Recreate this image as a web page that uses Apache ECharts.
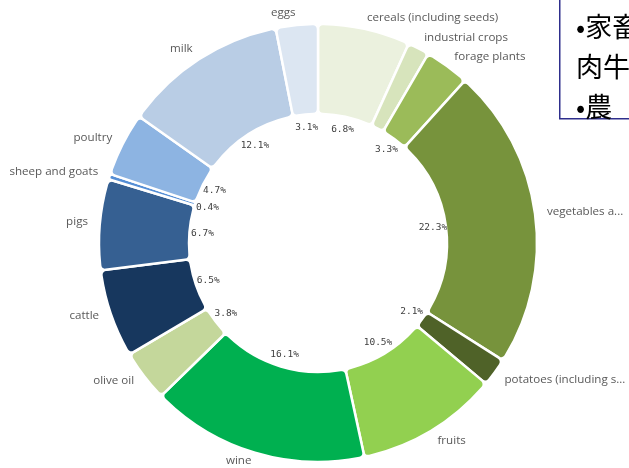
<!DOCTYPE html>
<html>
<head>
<meta charset="utf-8">
<script src="https://cdn.jsdelivr.net/npm/echarts@6/dist/echarts.min.js"></script>
<style>
  html, body { margin: 0; padding: 0; background: #fff; }
  #chart { width: 629px; height: 468px; }
</style>
</head>
<body>
<div id="chart"></div>
<script>
// ── Data (clockwise from 12 o'clock) ───────────────────────────────────
const categories = [
  'cereals (including seeds)', 'industrial crops', 'forage plants',
  'vegetables and horticultural products', 'potatoes (including seeds)',
  'fruits', 'wine', 'olive oil', 'cattle', 'pigs', 'sheep and goats',
  'poultry', 'milk', 'eggs'
];
const shares = [6.8, 1.6, 3.3, 22.3, 2.1, 10.5, 16.1, 3.8, 6.5, 6.7, 0.4, 4.7, 12.1, 3.1];
const hiddenPct = ['industrial crops'];

const noteLines = ['•家畜', '肉牛', '•農'];

// ── Style ───────────────────────────────────────────────────────────────
const colors = [
  '#EBF1DE', '#D7E4BC', '#9BBB59', '#77933C', '#4F6228', '#92D050', '#00B050',
  '#C4D79B', '#17375E', '#366092', '#558ED5', '#8DB4E2', '#B9CDE5', '#DCE6F2'
];
const labelFont = 'Open Sans';
const pctFont = 'DejaVu Sans Mono';
const center = [318, 243];

const sliceData = categories.map((name, i) => ({ name, value: shares[i] }));

const chart = echarts.init(document.getElementById('chart'), null, { renderer: 'canvas' });
chart.setOption({
  animation: false,
  color: colors,
  tooltip: { show: false },
  series: [
    {
      // percentages, sitting just inside the hole
      type: 'pie',
      silent: true,
      center: center,
      radius: [98, 128],
      startAngle: 90,
      clockwise: true,
      itemStyle: { color: 'transparent' },
      label: {
        show: true,
        position: 'inside',
        fontFamily: pctFont,
        fontSize: 9.5,
        color: '#404040',
        formatter: p => hiddenPct.includes(p.name) ? '' : p.value.toFixed(1) + '%'
      },
      labelLine: { show: false },
      data: sliceData
    },
    {
      type: 'pie',
      center: center,
      radius: [129, 219],
      startAngle: 90,
      clockwise: true,
      itemStyle: { borderColor: '#ffffff', borderWidth: 2.5, borderRadius: 5 },
      label: {
        show: true,
        position: 'outside',
        fontFamily: labelFont,
        fontSize: 11.6,
        color: '#595959',
        distanceToLabelLine: 0,
        bleedMargin: 0,
        overflow: 'truncate',
        ellipsis: '...'
      },
      labelLine: { show: false, length: 12, length2: 0 },
      emphasis: { disabled: true },
      data: sliceData
    }
  ],
  graphic: [
    {
      type: 'rect',
      left: 559, top: -2,
      shape: { width: 90, height: 120 },
      style: { fill: '#ffffff', stroke: '#2E2E8C', lineWidth: 1.5 },
      z: 100
    },
    {
      type: 'text',
      left: 576, top: 7,
      style: {
        text: noteLines.join('\n'),
        font: '27px "Noto Sans CJK JP"',
        lineHeight: 40,
        fill: '#000000'
      },
      z: 101
    }
  ]
});
</script>
</body>
</html>
